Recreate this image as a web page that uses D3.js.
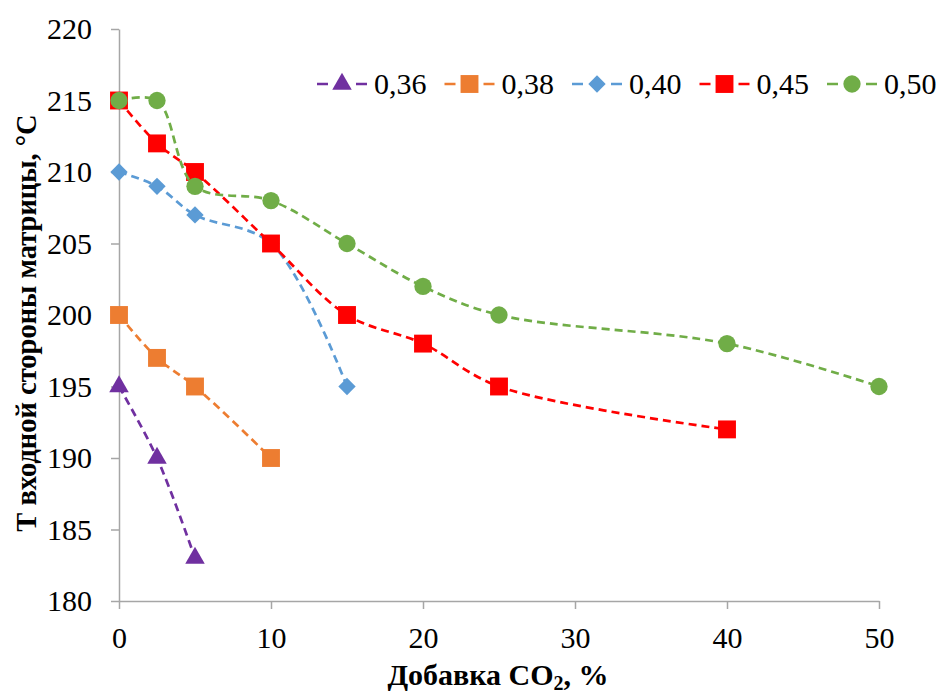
<!DOCTYPE html>
<html>
<head>
<meta charset="utf-8">
<script src="https://cdn.jsdelivr.net/npm/d3@7"></script>
</head>
<body style="margin:0; background:#fff; font-family:'Liberation Serif', serif;">
<div id="graf"></div>
<script>
// I. Datos
const series = ['0,36', '0,38', '0,40', '0,45', '0,50']
const colores = ['#7030A0', '#ED7D31', '#5B9BD5', '#FF0000', '#70AD47']
const simbolos = ['triangle', 'square', 'diamond', 'square', 'circle']

const x036 = [0, 2.5, 5]
const y036 = [195, 190, 183]
const x038 = [0, 2.5, 5, 10]
const y038 = [200, 197, 195, 190]
const x040 = [0, 2.5, 5, 10, 15]
const y040 = [210, 209, 207, 205, 195]
const x045 = [0, 2.5, 5, 10, 15, 20, 25, 40]
const y045 = [215, 212, 210, 205, 200, 198, 195, 192]
const x050 = [0, 2.5, 5, 10, 15, 20, 25, 40, 50]
const y050 = [215, 215, 209, 208, 205, 202, 200, 198, 195]

const xTicks = [0, 10, 20, 30, 40, 50]
const yTicks = [180, 185, 190, 195, 200, 205, 210, 215, 220]

const xs = [x036, x038, x040, x045, x050]
const ys = [y036, y038, y040, y045, y050]

const datos = series.map((s, i) => ({
  nombre: s,
  color: colores[i],
  simbolo: simbolos[i],
  puntos: xs[i].map((v, j) => ({ x: v, y: ys[i][j] }))
}))

// II. Configuración
const ancho_total = 940, alto_total = 695
const margins = { top: 29, left: 119, right: 61, bottom: 94 }
const ancho = ancho_total - margins.left - margins.right
const alto = alto_total - margins.top - margins.bottom
const fuente = "'Liberation Serif', serif"

const svg = d3.select('#graf').append('svg')
  .attr('width', ancho_total)
  .attr('height', alto_total)
  .style('font-family', fuente)

const g = svg.append('g')
  .attr('transform', `translate(${margins.left}, ${margins.top})`)

const x = d3.scaleLinear().domain([0, 50]).range([0, ancho])
const y = d3.scaleLinear().domain([180, 220]).range([alto, 0])

const gris = '#a6a6a6'

// ejes
const xAxisGroup = g.append('g')
  .attr('transform', `translate(0, ${alto})`)
  .call(d3.axisBottom(x).tickValues(xTicks).tickSize(8).tickSizeOuter(0))
xAxisGroup.attr('font-family', null).attr('font-size', null)
xAxisGroup.select('.domain').attr('stroke', gris).attr('stroke-width', 1.5)
xAxisGroup.selectAll('.tick line').attr('stroke', gris).attr('stroke-width', 1.5)
xAxisGroup.selectAll('.tick text')
  .attr('y', 47)
  .attr('dy', 0)
  .style('font-family', fuente)
  .style('font-size', '30px')
  .attr('fill', '#000')

const yAxisGroup = g.append('g')
  .call(d3.axisLeft(y).tickValues(yTicks).tickSize(8).tickSizeOuter(0))
yAxisGroup.attr('font-family', null).attr('font-size', null)
yAxisGroup.select('.domain').attr('stroke', gris).attr('stroke-width', 1.5)
yAxisGroup.selectAll('.tick line').attr('stroke', gris).attr('stroke-width', 1.5)
yAxisGroup.selectAll('.tick text')
  .attr('x', -27)
  .style('font-family', fuente)
  .style('font-size', '30px')
  .attr('fill', '#000')

// títulos
const tituloX = svg.append('text')
  .attr('x', 498)
  .attr('y', 685)
  .attr('text-anchor', 'middle')
  .style('font-family', fuente)
  .style('font-size', '30px')
  .style('font-weight', 'bold')
tituloX.append('tspan').text('Добавка CO')
tituloX.append('tspan').attr('dy', 5).style('font-size', '20px').text('2')
tituloX.append('tspan').attr('dy', -5).text(', %')

svg.append('text')
  .attr('transform', `translate(36, 323) rotate(-90)`)
  .attr('text-anchor', 'middle')
  .style('font-family', fuente)
  .style('font-size', '28.5px')
  .style('font-weight', 'bold')
  .text('Т входной стороны матрицы, °С')

// símbolos
function simbolo(tipo) {
  if (tipo === 'triangle') return d3.symbol(d3.symbolTriangle, 165)()
  if (tipo === 'square') return d3.symbol(d3.symbolSquare, 320)()
  if (tipo === 'diamond') return d3.symbol(d3.symbolSquare, 150)()
  return d3.symbol(d3.symbolCircle, 235)()
}
function giro(tipo) {
  return tipo === 'diamond' ? ' rotate(45)' : ''
}

const linea = d3.line()
  .x(d => x(d.x))
  .y(d => y(d.y))
  .curve(d3.curveCatmullRom.alpha(0.5))

datos.forEach(s => {
  g.append('path')
    .datum(s.puntos)
    .attr('d', linea)
    .attr('fill', 'none')
    .attr('stroke', s.color)
    .attr('stroke-width', 2.7)
    .attr('stroke-dasharray', '8,5')

  g.selectAll(null)
    .data(s.puntos)
    .enter()
    .append('path')
      .attr('d', simbolo(s.simbolo))
      .attr('transform', d => `translate(${x(d.x)}, ${y(d.y)})` + giro(s.simbolo))
      .attr('fill', s.color)
})

// leyenda
const leyenda = svg.append('g')
  .attr('transform', 'translate(317, 84)')

datos.forEach((s, i) => {
  const item = leyenda.append('g')
    .attr('transform', `translate(${i * 127.5}, 0)`)
  item.append('line')
    .attr('x1', 0).attr('x2', 50)
    .attr('stroke', s.color)
    .attr('stroke-width', 2.7)
    .attr('stroke-dasharray', '11,28,11')
  item.append('path')
    .attr('d', simbolo(s.simbolo))
    .attr('transform', 'translate(25, 0)' + giro(s.simbolo))
    .attr('fill', s.color)
  item.append('text')
    .attr('x', 57)
    .attr('dy', '0.32em')
    .style('font-family', fuente)
    .style('font-size', '30px')
    .text(s.nombre)
})
</script>
</body>
</html>
